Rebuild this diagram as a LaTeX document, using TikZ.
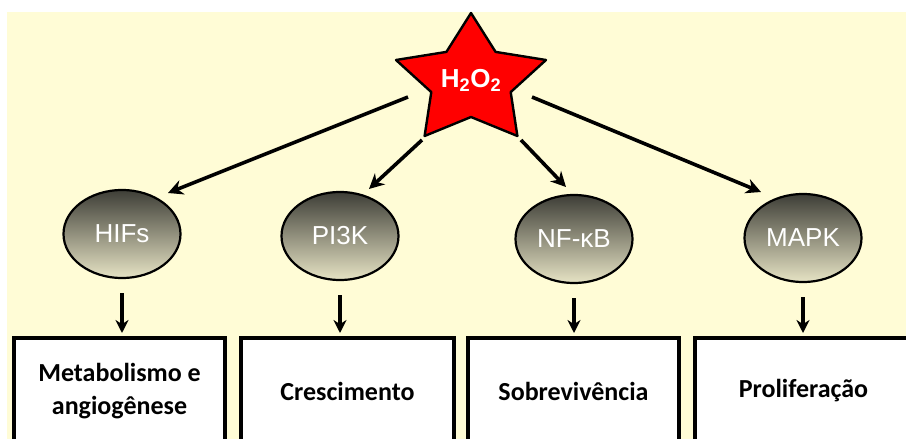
\documentclass[tikz,border=0pt]{standalone}
\usepackage{fontspec}
\setmainfont{Carlito}
\newfontfamily\arialfont{Liberation Sans}
\usetikzlibrary{shapes.geometric,arrows.meta}
\definecolor{bgyellow}{RGB}{255,252,214}
\definecolor{startred}{RGB}{255,0,0}
\definecolor{elltop}{RGB}{62,62,55}
\definecolor{ellbot}{RGB}{230,227,196}
\tikzset{
  pathway/.style={ellipse, draw=black, line width=2.2pt, minimum width=117pt, minimum height=88pt,
    inner sep=0pt, top color=elltop, bottom color=ellbot, text=white,
    font=\arialfont\fontsize{26}{30}\selectfont},
  outbox/.style={rectangle, draw=black, fill=white, line width=4pt, minimum height=106pt,
    inner sep=0pt, align=center, font=\bfseries\fontsize{26}{33}\selectfont},
  darr/.style={line width=3.6pt, -{Stealth[length=15pt,width=15pt]}},
  varr/.style={line width=3.2pt, -{Stealth[length=13pt,width=13pt]}, shorten <=14pt, shorten >=3pt}
}
\begin{document}
\begin{tikzpicture}[x=1pt,y=-1pt]
\useasboundingbox (0,0) rectangle (906,439);
\clip (0,0) rectangle (906,439);
\fill[white] (0,0) rectangle (906,439);
\fill[bgyellow] (7,12) rectangle (906,439);

% star
\draw[fill=startred, draw=black, line width=2.4pt, line join=round]
  (471,13) -- (495.6,51.9) -- (546,60) -- (510.7,92.1) -- (517.4,136)
  -- (471,117) -- (424.6,136) -- (431.3,92.1) -- (396,60) -- (446.4,51.9) -- cycle;
\node[text=white, font=\arialfont\bfseries\fontsize{26}{30}\selectfont, inner sep=0pt] (h2o2) at (471,80) {H\textsubscript{2}O\textsubscript{2}};

% pathway ellipses
\node[pathway] (hif) at (122,234) {HIFs};
\node[pathway] (pik) at (340,236) {PI3K};
\node[pathway] (nfk) at (574,239) {NF-κB};
\node[pathway] (mapk) at (803,238) {MAPK};

% outcome boxes
\node[outbox, minimum width=211pt] (b1) at (119.5,391) {Metabolismo e\\angiogênese};
\node[outbox, minimum width=213pt] (b2) at (347.5,391) {Crescimento};
\node[outbox, minimum width=211pt] (b3) at (573.5,391) {Sobrevivência};
\node[outbox, minimum width=217pt] (b4) at (803.5,391) {Proliferação};

% arrow end points
\coordinate (s1) at (408,97);
\coordinate (s2) at (422,140);
\coordinate (s3) at (521,140);
\coordinate (s4) at (532,97);
\coordinate (t1) at (168,193);
\coordinate (t2) at (369,189);
\coordinate (t3) at (566,187);
\coordinate (t4) at (761,192);

\draw[darr] (s1) -- (t1);
\draw[darr] (s2) -- (t2);
\draw[darr] (s3) -- (t3);
\draw[darr] (s4) -- (t4);

\draw[varr] (hif.south) -- (hif.south |- b1.north);
\draw[varr] (pik.south) -- (pik.south |- b2.north);
\draw[varr] (nfk.south) -- (nfk.south |- b3.north);
\draw[varr] (mapk.south) -- (mapk.south |- b4.north);
\end{tikzpicture}
\end{document}
